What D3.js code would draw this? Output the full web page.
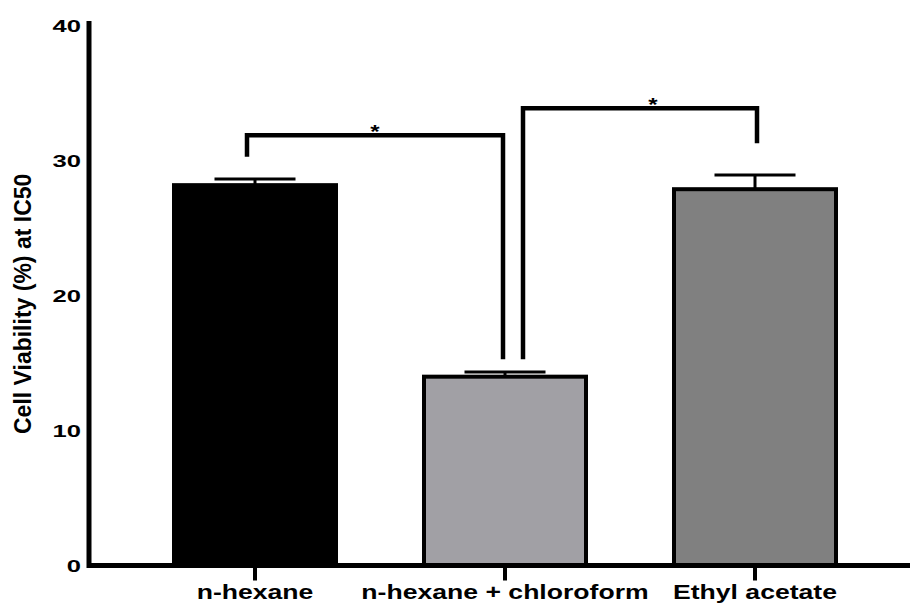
<!DOCTYPE html>
<html>
<head>
<meta charset="utf-8">
<script src="https://cdn.jsdelivr.net/npm/d3@7"></script>
<style>
  body { margin: 0; background: #fff; }
  text { font-family: "Liberation Sans", Arial, sans-serif; font-weight: bold; fill: #000; }
</style>
</head>
<body>
<svg id="chart" width="910" height="603"></svg>
<script>
// Data
const categories = ["n-hexane", "n-hexane + chloroform", "Ethyl acetate"];
const means = [28.2, 14.0, 27.9];
const errors = [0.45, 0.35, 1.05];
const barColors = ["#000000", "#a1a0a5", "#808080"];
const yTicks = [0, 10, 20, 30, 40];
// significance brackets: groups joined, bar level, where each leg stops
const brackets = [
  { from: 0, to: 1, level: 31.9, leftEnd: 30.3, rightEnd: 15.3, label: "*" },
  { from: 1, to: 2, level: 33.9, leftEnd: 15.3, rightEnd: 31.3, label: "*" }
];

const svg = d3.select("#chart");
const stretch = 1.33; // the original figure is stretched horizontally

const x = d3.scaleBand()
  .domain(categories)
  .range([130, 880])
  .paddingInner(0.352)
  .paddingOuter(0.176);

const y = d3.scaleLinear().domain([0, 40]).range([565.5, 26]);

// Bars
svg.selectAll("rect.bar")
  .data(categories)
  .enter()
  .append("rect")
  .attr("class", "bar")
  .attr("x", d => x(d))
  .attr("width", x.bandwidth())
  .attr("y", (d, i) => y(means[i]))
  .attr("height", (d, i) => y(0) - y(means[i]))
  .attr("fill", (d, i) => barColors[i])
  .attr("stroke", "#000")
  .attr("stroke-width", 4);

// Error bars (upper half only)
const cx = d => x(d) + x.bandwidth() / 2;
svg.selectAll("line.stem")
  .data(categories)
  .enter()
  .append("line")
  .attr("x1", cx).attr("x2", cx)
  .attr("y1", (d, i) => y(means[i]))
  .attr("y2", (d, i) => y(means[i] + errors[i]))
  .attr("stroke", "#000")
  .attr("stroke-width", 3);

svg.selectAll("line.cap")
  .data(categories)
  .enter()
  .append("line")
  .attr("x1", d => cx(d) - x.bandwidth() / 4)
  .attr("x2", d => cx(d) + x.bandwidth() / 4)
  .attr("y1", (d, i) => y(means[i] + errors[i]))
  .attr("y2", (d, i) => y(means[i] + errors[i]))
  .attr("stroke", "#000")
  .attr("stroke-width", 3);

// Axes
const xAxisY = y(0);
svg.append("line")
  .attr("x1", 89).attr("x2", 910)
  .attr("y1", xAxisY).attr("y2", xAxisY)
  .attr("stroke", "#000").attr("stroke-width", 5);

svg.append("line")
  .attr("x1", 89).attr("x2", 89)
  .attr("y1", 21).attr("y2", xAxisY + 2.5)
  .attr("stroke", "#000").attr("stroke-width", 5);

svg.selectAll("line.xtick")
  .data(categories)
  .enter()
  .append("line")
  .attr("x1", cx).attr("x2", cx)
  .attr("y1", xAxisY).attr("y2", xAxisY + 15)
  .attr("stroke", "#000").attr("stroke-width", 4);

svg.selectAll("text.xlab")
  .data(categories)
  .enter()
  .append("text")
  .attr("transform", d => `translate(${cx(d)},599) scale(${stretch},1)`)
  .attr("text-anchor", "middle")
  .attr("font-size", 20)
  .text(d => d);

svg.selectAll("text.ylab")
  .data(yTicks)
  .enter()
  .append("text")
  .attr("transform", d => `translate(81,${y(d) + 6}) scale(1.55,1)`)
  .attr("text-anchor", "end")
  .attr("font-size", 16.5)
  .text(d => d);

svg.append("text")
  .attr("transform", `translate(31,${y(19.4)}) rotate(-90)`)
  .attr("text-anchor", "middle")
  .attr("font-size", 23)
  .text("Cell Viability (%) at IC50");

// Significance brackets
const legShift = [[-8, -2], [18, 2]];
const starShift = [0, 13];
brackets.forEach((b, i) => {
  const xl = cx(categories[b.from]) + legShift[i][0];
  const xr = cx(categories[b.to]) + legShift[i][1];
  const path = d3.path();
  path.moveTo(xl, y(b.leftEnd));
  path.lineTo(xl, y(b.level));
  path.lineTo(xr, y(b.level));
  path.lineTo(xr, y(b.rightEnd));
  svg.append("path")
    .attr("d", path.toString())
    .attr("fill", "none")
    .attr("stroke", "#000")
    .attr("stroke-width", 4.5);
  svg.append("text")
    .attr("transform", `translate(${(xl + xr) / 2 + starShift[i]},${y(b.level) + 3}) scale(${stretch},1)`)
    .attr("text-anchor", "middle")
    .attr("font-size", 18)
    .text(b.label);
});
</script>
</body>
</html>
